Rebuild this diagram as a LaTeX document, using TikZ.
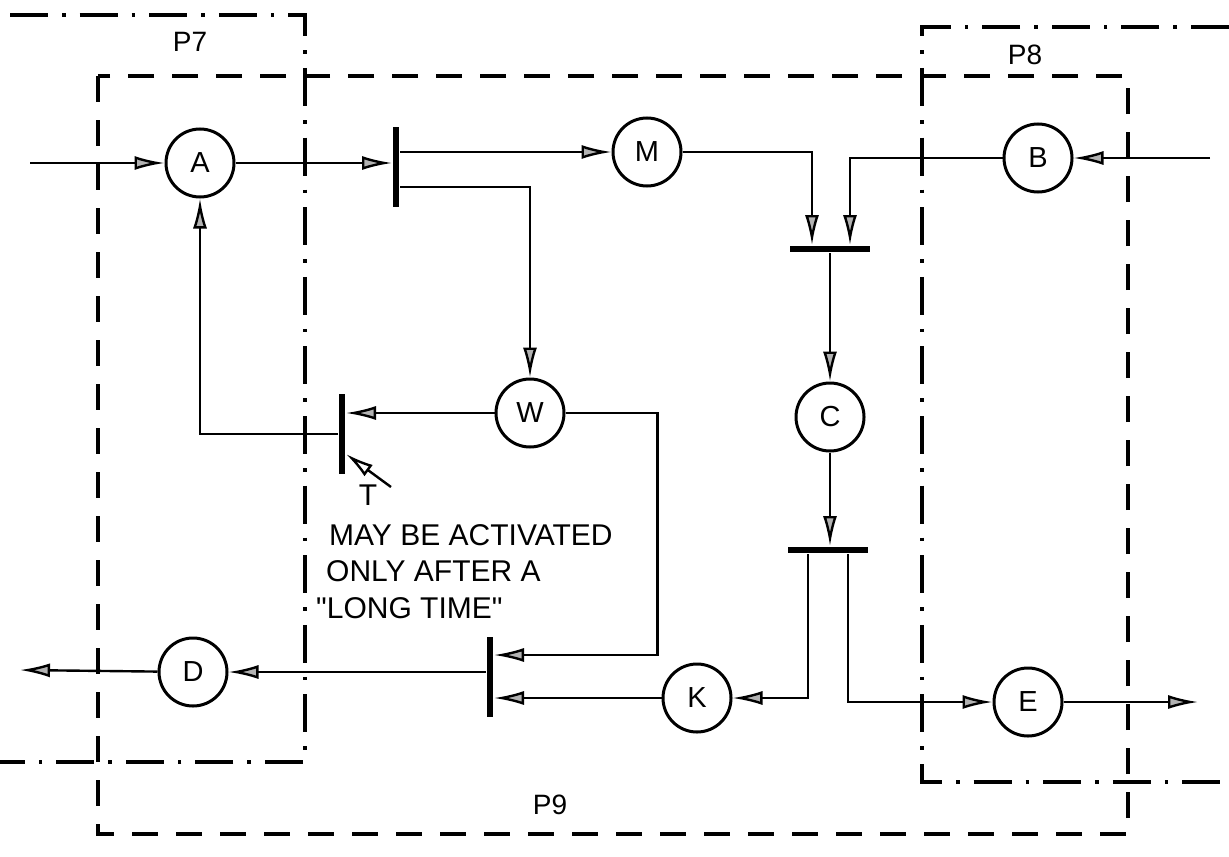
\documentclass[tikz,border=0pt]{standalone}
\usepackage{fontspec}
\setmainfont{Liberation Sans}
\usetikzlibrary{arrows.meta}

\tikzset{
    place/.style={circle,draw,line width=1.5pt,minimum size=34pt,inner sep=0pt,
        font=\fontsize{14.5}{16}\selectfont},
    vbar/.style={rectangle,fill,inner sep=0pt,minimum width=2.8pt,minimum height=40pt},
    hbar/.style={rectangle,fill,inner sep=0pt,minimum width=40pt,minimum height=2.8pt},
    dashdotbox/.style={-,line width=1.7pt,dash pattern=on 19pt off 7pt on 1.8pt off 7pt},
    dashbox/.style={-,line width=1.7pt,dash pattern=on 13pt off 9pt},
    lbl/.style={font=\fontsize{14}{16}\selectfont},
    note/.style={anchor=base west,inner sep=0pt,font=\fontsize{15}{18}\selectfont}
}

\begin{document}
\begin{tikzpicture}[x=0.5pt,y=-0.5pt,->,>={Latex[length=15pt,width=7pt,fill=gray!60]},line width=1.2pt]
    \useasboundingbox (0,0) rectangle (1229,856);

    % partitions
    \draw[dashdotbox] (10,15) -- (305,15) -- (305,762) -- (0,762);
    \draw[dashdotbox] (1229,27) -- (922,27) -- (922,782) -- (1229,782);
    \draw[dashbox] (98,76) rectangle (1128,834);
    \node[lbl] (p7) at (190,42) {P7};
    \node[lbl] (p8) at (1025,55) {P8};
    \node[lbl] (p9) at (550,805) {P9};

    % places
    \node[place] (a) at (200,163) {A};
    \node[place] (m) at (647,152) {M};
    \node[place] (b) at (1038,158) {B};
    \node[place] (w) at (530,413) {W};
    \node[place] (c) at (830,417) {C};
    \node[place] (d) at (193,672) {D};
    \node[place] (k) at (697,698) {K};
    \node[place] (e) at (1028,702) {E};

    % transitions
    \node[vbar] (t1) at (396,167) {};
    \node[hbar] (t2) at (830,249) {};
    \node[vbar] (t3) at (342,434) {};
    \node[hbar] (t4) at (828,550) {};
    \node[vbar] (t5) at (490,677) {};

    \coordinate (ina) at (30,163);
    \coordinate (inb) at (1210,158);
    \coordinate (outd) at (20,670);
    \coordinate (oute) at (1198,702);

    \draw (ina) -- (a);
    \draw (a) -- (a -| t1.west);
    \draw (t1.east |- m) -- (m);
    \draw ([yshift=-10pt]t1.east) -| (w);
    \draw (m) -| ([xshift=-9pt]t2.north);
    \draw (inb) -- (b);
    \draw (b) -| ([xshift=10pt]t2.north);
    \draw (t2) -- (c);
    \draw (w) -- (w -| t3.east);
    \draw (t3) -| (a);
    \draw (w.east) -- ++(92,0) |- ([yshift=11pt]t5.east);
    \draw (k) -- (k -| t5.east);
    \draw (t5.west |- d) -- (d);
    \draw (d) -- (outd);
    \draw (c) -- (c |- t4.north);
    \draw ([xshift=-10pt]t4.south) |- (k);
    \draw ([xshift=10pt]t4.south) |- (e);
    \draw (e) -- (oute);

    % note on T
    \node[font=\fontsize{15}{18}\selectfont] (tl) at (368,495) {T};
    \coordinate (ntail) at (391,487);
    \draw[-{Latex[open,length=14pt,width=7pt]}] (ntail) -- ([yshift=-10pt]t3.east);
    \node[note] (n1) at (328,545) {MAY BE ACTIVATED};
    \node[note] (n2) at (325,581) {ONLY AFTER A};
    \node[note] (n3) at (315,618) {\textquotedbl LONG TIME\textquotedbl};
\end{tikzpicture}
\end{document}
